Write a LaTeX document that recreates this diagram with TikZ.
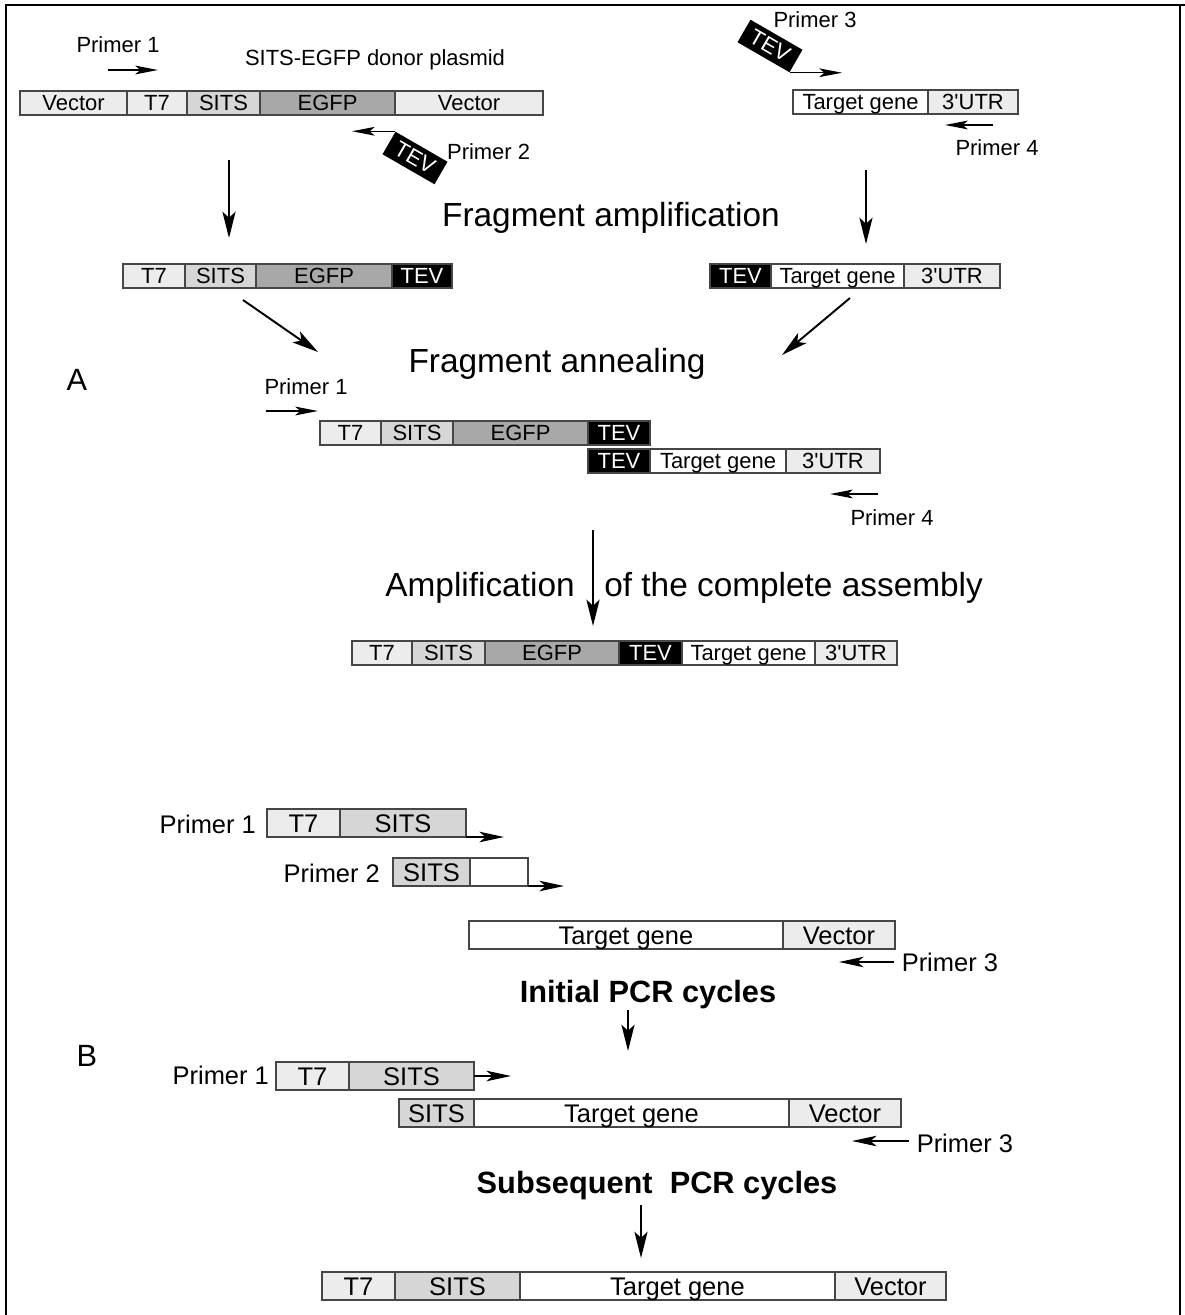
\documentclass[tikz,border=0pt]{standalone}
\usepackage{fontspec}
\setmainfont{Liberation Sans}
\usepackage{xcolor}
\usepackage{tikz}
\usetikzlibrary{arrows.meta, positioning}
\definecolor{palegray}{RGB}{236, 236, 236}
\definecolor{sitsgray}{RGB}{214, 214, 214}
\definecolor{egfpgray}{RGB}{168, 168, 168}
\definecolor{segline}{RGB}{70, 70, 70}
\newlength\pxu
\setlength\pxu{0.02cm}
\newcommand\utrlbl{3\textquotesingle UTR}

\begin{document}
\begin{tikzpicture}[
    x=0.02cm, y=-0.02cm,
    seg/.style={draw=segline, line width=0.7pt, inner sep=0pt, outer sep=0pt,
                minimum height=24\pxu, text height=9pt, text depth=0.4pt,
                font=\fontsize{12.5}{14}\selectfont},
    segB/.style={seg, minimum height=28\pxu, text height=10.6pt, text depth=0.3pt,
                 font=\fontsize{14.5}{16}\selectfont},
    pale/.style={fill=palegray},
    sits/.style={fill=sitsgray},
    egfp/.style={fill=egfpgray},
    tev/.style={fill=black, text=white},
    blank/.style={fill=white},
    tevtag/.style={fill=black, text=white, inner sep=0pt, minimum width=60\pxu,
                   minimum height=26\pxu, rotate=-30, font=\fontsize{12.5}{14}\selectfont},
    primerlbl/.style={font=\fontsize{12.5}{14}\selectfont, inner sep=1pt},
    primerB/.style={font=\fontsize{14.5}{16}\selectfont, inner sep=1pt},
    stage/.style={font=\fontsize{19}{22}\selectfont, inner sep=0pt},
    stageB/.style={font=\bfseries\fontsize{17.5}{20}\selectfont, inner sep=0pt},
    panel/.style={font=\fontsize{17.5}{20}\selectfont, inner sep=0pt},
    parrow/.style={-{Stealth[length=13pt, width=5pt, inset=3pt]}, line width=0.8pt},
    parrowB/.style={-{Stealth[length=14pt, width=6pt, inset=3.5pt]}, line width=0.9pt},
    flow/.style={-{Stealth[length=15pt, width=7.5pt, inset=3.5pt]}, line width=1.1pt}
]
    \useasboundingbox (0,0) rectangle (1185,1315);
    % frame
    \draw[line width=1.7pt] (6,1315) -- (6,5) -- (1185,5);
    \draw[line width=1.2pt] (1180,5) -- (1180,1315);

    % ---------- A: donor plasmid ----------
    \node[seg, pale, minimum width=107\pxu, anchor=west] (d1vec) at (20,103) {Vector};
    \node[seg, pale, minimum width=60\pxu, right=0pt of d1vec] (d1t7) {T7};
    \node[seg, sits, minimum width=73\pxu, right=0pt of d1t7] (d1sits) {SITS};
    \node[seg, egfp, minimum width=135\pxu, right=0pt of d1sits] (d1egfp) {EGFP};
    \node[seg, pale, minimum width=148\pxu, right=0pt of d1egfp] (d1vecb) {Vector};
    \node[primerlbl] (donorlbl) at (375,60) {SITS-EGFP donor plasmid};

    % Primer 1 / Primer 2
    \node[primerlbl] (p1lbl) at (118,45) {Primer 1};
    \coordinate (p1start) at (108,70);
    \coordinate (p1end) at (158,70);
    \draw[parrow] (p1start) -- (p1end);
    \node[tevtag] (tevp2) at (415,158) {TEV};
    \coordinate (p2end) at (352,0);
    \draw[parrow] (tevp2.north west) -- (tevp2.north west -| p2end);
    \node[primerlbl, anchor=west] (p2lbl) at (445,152) {Primer 2};

    % ---------- A: target gene ----------
    \node[seg, blank, minimum width=135\pxu, anchor=west] (t1gene) at (793,102) {Target gene};
    \node[seg, pale, minimum width=90\pxu, right=0pt of t1gene] (t1utr) {\utrlbl};
    \node[tevtag] (tevp3) at (770,46) {TEV};
    \node[primerlbl] (p3lbl) at (815,20) {Primer 3};
    \coordinate (p3end) at (842,0);
    \draw[parrow] (tevp3.south east) -- (tevp3.south east -| p3end);
    \coordinate (p4start) at (993,125);
    \coordinate (p4end) at (945,125);
    \draw[parrow] (p4start) -- (p4end);
    \node[primerlbl] (p4lbl) at (997,148) {Primer 4};

    % fragment amplification
    \coordinate (amlA) at (229,160);
    \coordinate (amlB) at (229,238);
    \coordinate (amrA) at (866,170);
    \coordinate (amrB) at (866,244);
    \draw[flow] (amlA) -- (amlB);
    \draw[flow] (amrA) -- (amrB);
    \node[stage] (fragamp) at (611,218) {Fragment amplification};

    \node[seg, pale, minimum width=62\pxu, anchor=west] (f1t7) at (123,276) {T7};
    \node[seg, sits, minimum width=71\pxu, right=0pt of f1t7] (f1sits) {SITS};
    \node[seg, egfp, minimum width=136\pxu, right=0pt of f1sits] (f1egfp) {EGFP};
    \node[seg, tev, minimum width=60\pxu, right=0pt of f1egfp] (f1tev) {TEV};

    \node[seg, tev, minimum width=61\pxu, anchor=west] (f2tev) at (710,276) {TEV};
    \node[seg, blank, minimum width=133\pxu, right=0pt of f2tev] (f2gene) {Target gene};
    \node[seg, pale, minimum width=96\pxu, right=0pt of f2gene] (f2utr) {\utrlbl};

    % fragment annealing
    \coordinate (anlA) at (243,300);
    \coordinate (anlB) at (318,352);
    \coordinate (anrA) at (850,298);
    \coordinate (anrB) at (782,355);
    \draw[flow] (anlA) -- (anlB);
    \draw[flow] (anrA) -- (anrB);
    \node[stage] (fragann) at (557,364) {Fragment annealing};
    \node[panel] (panelA) at (77,380) {A};

    \node[primerlbl] (p1alb) at (306,387) {Primer 1};
    \coordinate (p1aS) at (266,411);
    \coordinate (p1aE) at (318,411);
    \draw[parrow] (p1aS) -- (p1aE);
    \node[seg, pale, minimum width=61\pxu, anchor=west] (a1t7) at (320,433) {T7};
    \node[seg, sits, minimum width=72\pxu, right=0pt of a1t7] (a1sits) {SITS};
    \node[seg, egfp, minimum width=135\pxu, right=0pt of a1sits] (a1egfp) {EGFP};
    \node[seg, tev, minimum width=62\pxu, right=0pt of a1egfp] (a1tev) {TEV};
    \node[seg, tev, minimum width=62\pxu, anchor=west] (a2tev) at (588,461) {TEV};
    \node[seg, blank, minimum width=136\pxu, right=0pt of a2tev] (a2gene) {Target gene};
    \node[seg, pale, minimum width=94\pxu, right=0pt of a2gene] (a2utr) {\utrlbl};
    \coordinate (p4aS) at (878,494);
    \coordinate (p4aE) at (830,494);
    \draw[parrow] (p4aS) -- (p4aE);
    \node[primerlbl] (p4alb) at (892,518) {Primer 4};

    % amplification of the complete assembly
    \coordinate (cmpA) at (593,530);
    \coordinate (cmpB) at (593,626);
    \draw[flow] (cmpA) -- (cmpB);
    \node[stage, anchor=east] (amplbl) at (575,588) {Amplification};
    \node[stage, anchor=west] (asmlbl) at (604,588) {of the complete assembly};

    \node[seg, pale, minimum width=60\pxu, anchor=west] (c1t7) at (352,653) {T7};
    \node[seg, sits, minimum width=73\pxu, right=0pt of c1t7] (c1sits) {SITS};
    \node[seg, egfp, minimum width=134\pxu, right=0pt of c1sits] (c1egfp) {EGFP};
    \node[seg, tev, minimum width=63\pxu, right=0pt of c1egfp] (c1tev) {TEV};
    \node[seg, blank, minimum width=133\pxu, right=0pt of c1tev] (c1gene) {Target gene};
    \node[seg, pale, minimum width=82\pxu, right=0pt of c1gene] (c1utr) {\utrlbl};

    % ---------- B ----------
    \node[primerB, anchor=east] (bp1lbl) at (258,824) {Primer 1};
    \node[segB, pale, minimum width=73\pxu, anchor=west] (b1t7) at (267,823) {T7};
    \node[segB, sits, minimum width=126\pxu, right=0pt of b1t7] (b1sits) {SITS};
    \coordinate (b1tip) at (504,837);
    \draw[parrowB] (b1sits.south east) -- (b1tip);

    \node[primerB, anchor=east] (bp2lbl) at (382,873) {Primer 2};
    \node[segB, sits, minimum width=77\pxu, anchor=west] (b2sits) at (393,872) {SITS};
    \node[segB, blank, minimum width=58\pxu, right=0pt of b2sits] (b2blank) {};
    \coordinate (b2tip) at (564,886);
    \draw[parrowB] (b2blank.south east) -- (b2tip);

    \node[segB, blank, minimum width=314\pxu, anchor=west] (b3gene) at (469,935) {Target gene};
    \node[segB, pale, minimum width=112\pxu, right=0pt of b3gene] (b3vec) {Vector};
    \node[primerB, anchor=west, outer sep=6\pxu] (bp3lbl) at (894,962) {Primer 3};
    \coordinate (b3tip) at (839,962);
    \draw[parrowB] (bp3lbl.west) -- (b3tip);

    \node[stageB] (initpcr) at (648,995) {Initial PCR cycles};
    \coordinate (ipA) at (628,1010);
    \coordinate (ipB) at (628,1051);
    \draw[flow, line width=0.8pt] (ipA) -- (ipB);
    \node[panel] (panelB) at (87,1056) {B};

    \node[primerB, anchor=east] (bp1lblb) at (271,1075) {Primer 1};
    \node[segB, pale, minimum width=73\pxu, anchor=west] (b4t7) at (276,1076) {T7};
    \node[segB, sits, minimum width=125\pxu, right=0pt of b4t7] (b4sits) {SITS};
    \coordinate (b4tip) at (511,1076);
    \draw[parrowB] (b4sits.east) -- (b4tip);

    \node[segB, sits, minimum width=75\pxu, anchor=west] (b5sits) at (399,1113) {SITS};
    \node[segB, blank, minimum width=315\pxu, right=0pt of b5sits] (b5gene) {Target gene};
    \node[segB, pale, minimum width=112\pxu, right=0pt of b5gene] (b5vec) {Vector};
    \node[primerB, anchor=west, outer sep=6\pxu] (bp3lblb) at (909,1143) {Primer 3};
    \coordinate (b5tip) at (852,1141);
    \draw[parrowB] (bp3lblb.west |- b5tip) -- (b5tip);

    \node[stageB] (subpcr) at (657,1186) {Subsequent\ \ PCR cycles};
    \coordinate (spA) at (641,1205);
    \coordinate (spB) at (641,1258);
    \draw[flow, line width=0.8pt] (spA) -- (spB);

    \node[segB, pale, minimum width=73\pxu, anchor=west] (b6t7) at (322,1286) {T7};
    \node[segB, sits, minimum width=125\pxu, right=0pt of b6t7] (b6sits) {SITS};
    \node[segB, blank, minimum width=315\pxu, right=0pt of b6sits] (b6gene) {Target gene};
    \node[segB, pale, minimum width=111\pxu, right=0pt of b6gene] (b6vec) {Vector};
\end{tikzpicture}
\end{document}
